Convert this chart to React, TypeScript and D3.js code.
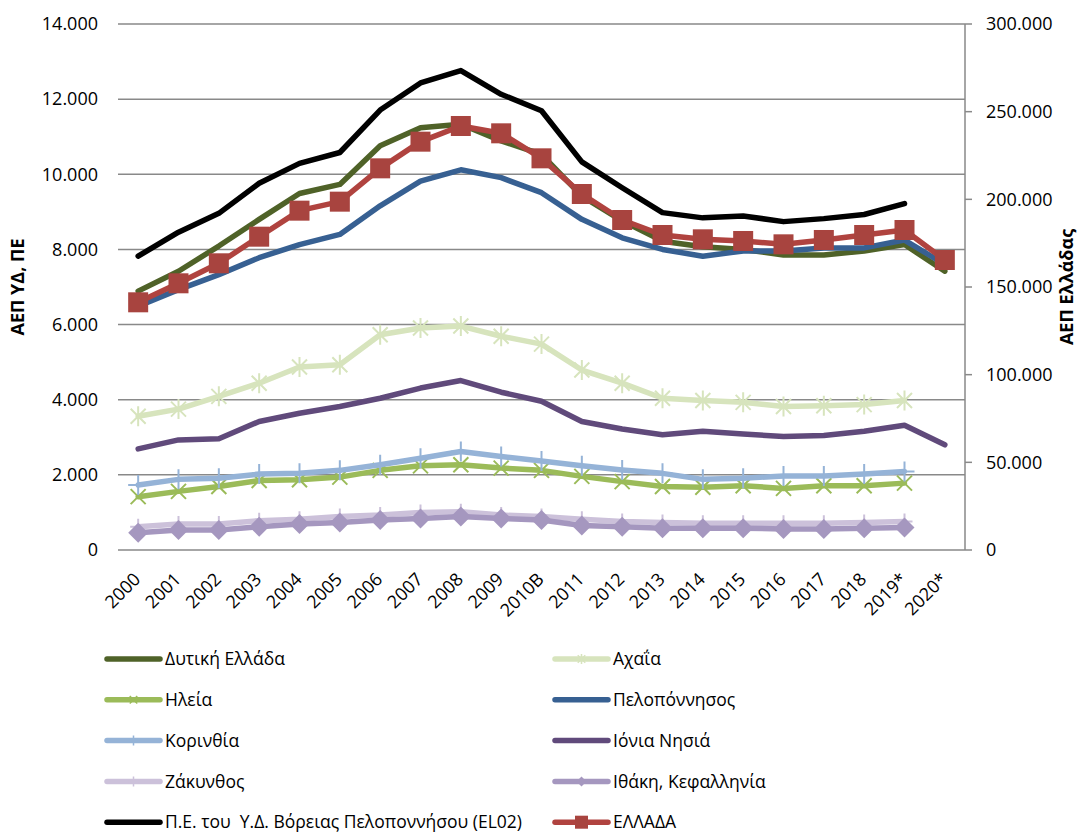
import React from 'react';
import * as d3 from 'd3';

// categories
const years = [
  '2000', '2001', '2002', '2003', '2004', '2005', '2006', '2007', '2008', '2009', '2010B',
  '2011', '2012', '2013', '2014', '2015', '2016', '2017', '2018', '2019*', '2020*',
];

// left axis series (ΑΕΠ ΥΔ, ΠΕ)
const dytikiEllada = [6890, 7420, 8090, 8800, 9490, 9730, 10760, 11240, 11330, 10890, 10530, 9420, 8760, 8220, 8070, 8000, 7850, 7850, 7960, 8130, 7420];
const achaia = [3560, 3750, 4090, 4440, 4870, 4930, 5730, 5910, 5960, 5690, 5480, 4790, 4440, 4040, 3980, 3930, 3820, 3840, 3870, 3980, null];
const ilia = [1420, 1560, 1690, 1850, 1870, 1940, 2120, 2240, 2270, 2180, 2120, 1960, 1820, 1690, 1670, 1710, 1640, 1710, 1710, 1780, null];
const peloponnisos = [6490, 6930, 7330, 7780, 8130, 8400, 9160, 9820, 10120, 9910, 9510, 8800, 8310, 8000, 7820, 7960, 7960, 8040, 8040, 8250, 7600];
const korinthia = [1730, 1880, 1910, 2020, 2040, 2120, 2270, 2440, 2620, 2490, 2370, 2240, 2130, 2040, 1880, 1910, 1970, 1970, 2020, 2090, null];
const ioniaNisia = [2690, 2930, 2960, 3420, 3640, 3820, 4040, 4310, 4510, 4200, 3960, 3420, 3220, 3070, 3160, 3090, 3020, 3050, 3160, 3320, 2800];
const zakynthos = [620, 690, 690, 780, 820, 890, 930, 1000, 1020, 930, 890, 820, 760, 730, 710, 710, 710, 710, 730, 760, null];
const ithakiKefallinia = [460, 530, 530, 620, 690, 730, 800, 840, 890, 840, 800, 650, 620, 580, 580, 580, 560, 560, 580, 600, null];
const peEl02 = [7820, 8460, 8960, 9760, 10290, 10580, 11710, 12430, 12760, 12130, 11690, 10330, 9640, 8980, 8840, 8890, 8740, 8820, 8930, 9220, null];
// right axis series (ΑΕΠ Ελλάδας)
const ellada = [141270, 152110, 163520, 178700, 193540, 198670, 217680, 232890, 241830, 237650, 223390, 203040, 188210, 179660, 177190, 176240, 174340, 176810, 179660, 182510, 165400];

const leftTicks = [0, 2000, 4000, 6000, 8000, 10000, 12000, 14000];
const rightTicks = [0, 50000, 100000, 150000, 200000, 250000, 300000];

type Marker = 'none' | 'star' | 'x' | 'plus' | 'diamond' | 'square';

const series: { name: string; values: (number | null)[]; color: string; marker: Marker; mcolor: string; right?: boolean; r: number }[] = [
  { name: 'Δυτική Ελλάδα', values: dytikiEllada, color: '#4F6228', marker: 'none', mcolor: '#4F6228', r: 0 },
  { name: 'Αχαΐα', values: achaia, color: '#D7E4BD', marker: 'star', mcolor: '#D7E4BD', r: 10 },
  { name: 'Ηλεία', values: ilia, color: '#9BBB59', marker: 'x', mcolor: '#9BBB59', r: 10 },
  { name: 'Πελοπόννησος', values: peloponnisos, color: '#376092', marker: 'none', mcolor: '#376092', r: 0 },
  { name: 'Κορινθία', values: korinthia, color: '#95B3D7', marker: 'plus', mcolor: '#95B3D7', r: 10 },
  { name: 'Ιόνια Νησιά', values: ioniaNisia, color: '#604A7B', marker: 'none', mcolor: '#604A7B', r: 0 },
  { name: 'Ζάκυνθος', values: zakynthos, color: '#CCC1DA', marker: 'plus', mcolor: '#CCC1DA', r: 8 },
  { name: 'Ιθάκη, Κεφαλληνία', values: ithakiKefallinia, color: '#A597BF', marker: 'diamond', mcolor: '#A597BF', r: 10 },
  { name: 'Π.Ε. του  Υ.Δ. Βόρειας Πελοποννήσου (EL02)', values: peEl02, color: '#000000', marker: 'none', mcolor: '#000000', r: 0 },
  { name: 'ΕΛΛΑΔΑ', values: ellada, color: '#B0433F', marker: 'square', mcolor: '#A8443F', right: true, r: 10 },
];

const W = 1089;
const H = 835;
const left = 118;
const right = 965;
const top = 24;
const bottom = 550;
const font = '"Open Sans", "Noto Sans", sans-serif';

const fmt = d3.formatLocale({ decimal: ',', thousands: '.', grouping: [3], currency: ['', '€'] }).format(',d');

function MarkerShape({ type, x, y, r, color, sw }: { type: Marker; x: number; y: number; r: number; color: string; sw: number }) {
  if (type === 'none') return null;
  if (type === 'square') return <rect x={x - r} y={y - r} width={r * 2} height={r * 2} fill={color} />;
  if (type === 'diamond')
    return <path d={`M${x},${y - r}L${x + r},${y}L${x},${y + r}L${x - r},${y}Z`} fill={color} />;
  const d = r * 0.75;
  const parts: string[] = [];
  if (type === 'x' || type === 'star') parts.push(`M${x - d},${y - d}L${x + d},${y + d}M${x - d},${y + d}L${x + d},${y - d}`);
  if (type === 'star') parts.push(`M${x},${y - r}L${x},${y + r}`);
  if (type === 'plus') parts.push(`M${x},${y - r}L${x},${y + r}M${x - r},${y}L${x + r},${y}`);
  return <path d={parts.join('')} stroke={color} strokeWidth={sw} fill="none" />;
}

export default function App() {
  const x = d3.scaleBand<string>().domain(years).range([left, right]);
  const cx = (k: string) => (x(k) as number) + x.bandwidth() / 2;
  const yL = d3.scaleLinear().domain([0, 14000]).range([bottom, top]);
  const yR = d3.scaleLinear().domain([0, 300000]).range([bottom, top]);

  // legend: two columns, row-major
  const legendY = (i: number) => 659 + Math.floor(i / 2) * 40.8;
  const legendX = (i: number) => (i % 2 === 0 ? 107 : 555);

  return (
    <svg width={W} height={H} style={{ position: 'absolute', left: 0, top: 0, background: '#fff' }} fontFamily={font}>
      {/* gridlines */}
      {leftTicks.map((t) => (
        <line key={t} x1={left} x2={right} y1={yL(t)} y2={yL(t)} stroke="#898989" strokeWidth={1.5} />
      ))}
      {/* right axis */}
      <line x1={right} x2={right} y1={top} y2={bottom} stroke="#898989" strokeWidth={1.5} />
      {rightTicks.map((t) => (
        <g key={t}>
          <line x1={right} x2={right + 7} y1={yR(t)} y2={yR(t)} stroke="#898989" strokeWidth={1.5} />
          <text x={986} y={yR(t)} dy="0.35em" fontSize={18} fill="#000">{fmt(t)}</text>
        </g>
      ))}
      {leftTicks.map((t) => (
        <text key={t} x={98} y={yL(t)} dy="0.35em" fontSize={18} textAnchor="end" fill="#000">{fmt(t)}</text>
      ))}
      {years.map((k) => (
        <text key={k} transform={`translate(${cx(k) - 1},${576}) rotate(-45)`} dy="0.35em" fontSize={18} textAnchor="end">{k}</text>
      ))}
      <text transform={`translate(24,${(top + bottom) / 2}) rotate(-90)`} textAnchor="middle" fontSize={18} fontWeight="bold">ΑΕΠ ΥΔ, ΠΕ</text>
      <text transform={`translate(1073,${(top + bottom) / 2}) rotate(-90)`} textAnchor="middle" fontSize={18} fontWeight="bold">ΑΕΠ Ελλάδας</text>

      {/* series */}
      {series.map((s) => {
        const ys = s.right ? yR : yL;
        const line = d3
          .line<number | null>()
          .defined((d) => d != null)
          .x((_, i) => cx(years[i]))
          .y((d) => ys(d as number));
        return (
          <g key={s.name}>
            <path d={line(s.values) || ''} fill="none" stroke={s.color} strokeWidth={5.5} strokeLinejoin="round" strokeLinecap="round" />
            {s.values.map((v, i) =>
              v == null ? null : (
                <MarkerShape key={i} type={s.marker} x={cx(years[i])} y={ys(v)} r={s.r} color={s.mcolor} sw={2} />
              )
            )}
          </g>
        );
      })}

      {/* legend */}
      {series.map((s, i) => (
        <g key={s.name}>
          <line x1={legendX(i)} x2={legendX(i) + 53} y1={legendY(i)} y2={legendY(i)} stroke={s.color} strokeWidth={5.5} strokeLinecap="round" />
          <MarkerShape type={s.marker} x={legendX(i) + 26.5} y={legendY(i)} r={s.marker === 'square' ? 6.5 : 5} color={s.mcolor} sw={1.5} />
          <text x={legendX(i) + 58} y={legendY(i)} dy="0.35em" fontSize={17.5} style={{ whiteSpace: 'pre' }}>{s.name}</text>
        </g>
      ))}
    </svg>
  );
}
